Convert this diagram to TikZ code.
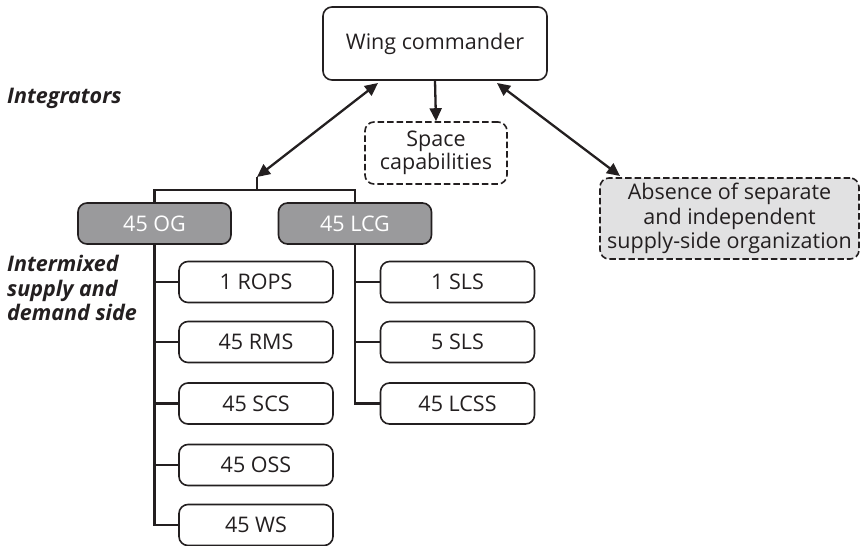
\documentclass[tikz,border=0pt]{standalone}
\usepackage{fontspec}
\setmainfont{Open Sans}
\usetikzlibrary{arrows.meta}
\definecolor{ln}{HTML}{231F20}
\definecolor{dkgray}{HTML}{9A9A9C}
\definecolor{ltgray}{HTML}{E1E1E2}
\tikzset{
  box/.style={draw=ln, line width=1.6pt, rounded corners=9pt, inner sep=0pt, align=center, font=\fontsize{21.5}{23.5}\selectfont, text=ln},
  unit/.style={box, minimum width=154pt, minimum height=41pt},
  grp/.style={box, fill=dkgray, text=white, minimum width=153pt, minimum height=41pt},
  dashbox/.style={box, dashed, dash pattern=on 6.5pt off 3pt},
  conn/.style={draw=ln, line width=2.3pt},
  arr/.style={conn, -{Triangle[length=13pt,width=12pt]}},
  darr/.style={conn, {Triangle[length=13pt,width=12pt]}-{Triangle[length=13pt,width=12pt]}},
  lbl/.style={font=\fontsize{21.5}{24.5}\selectfont\bfseries\itshape, text=ln, align=left, inner sep=0pt, anchor=north west}
}
\begin{document}
\begin{tikzpicture}[x=1pt,y=-1pt]
\useasboundingbox (0,0) rectangle (860,546);
\node[box, minimum width=224pt, minimum height=73pt] (wc) at (435,43.5) {Wing commander};
\node[dashbox, minimum width=142pt, minimum height=62pt] (sc) at (436,153) {Space\\capabilities};
\node[dashbox, fill=ltgray, minimum width=259pt, minimum height=81pt, font=\fontsize{21.5}{24.5}\selectfont] (ab) at (729.5,218.5) {Absence of separate\\and independent\\supply-side organization};
\node[grp] (og) at (154.5,223.5) {45 OG};
\node[grp] (lcg) at (355,223.5) {45 LCG};
\node[unit] (rops) at (256,282) {1 ROPS};
\node[unit] (rms) at (256,342) {45 RMS};
\node[unit] (scs) at (256,403.5) {45 SCS};
\node[unit] (oss) at (256,465) {45 OSS};
\node[unit] (ws) at (256,525) {45 WS};
\node[unit] (sls1) at (457.5,282) {1 SLS};
\node[unit] (sls5) at (457.5,342) {5 SLS};
\node[unit] (lcss) at (457.5,403.5) {45 LCSS};
\node[lbl] (integ) at (7,88) {Integrators};
\node[lbl] (mix) at (7,255) {Intermixed\\supply and\\demand side};
\coordinate (tip) at (257,177);
\coordinate (bar) at (257,190);
\draw[arr] (wc.south) -- (sc.north);
\draw[darr] (378,83) -- (tip);
\draw[darr] (497,83) -- (620,176);
\draw[conn] (tip) -- (bar);
\draw[conn, line cap=rect] (og.north) |- (bar) -| (lcg.north);
\draw[conn] (og.south) |- (ws.west);
\foreach \n in {rops,rms,scs,oss} \draw[conn] (og.south |- \n.west) -- (\n.west);
\draw[conn] (lcg.south) |- (lcss.west);
\foreach \n in {sls1,sls5} \draw[conn] (lcg.south |- \n.west) -- (\n.west);
\end{tikzpicture}
\end{document}
